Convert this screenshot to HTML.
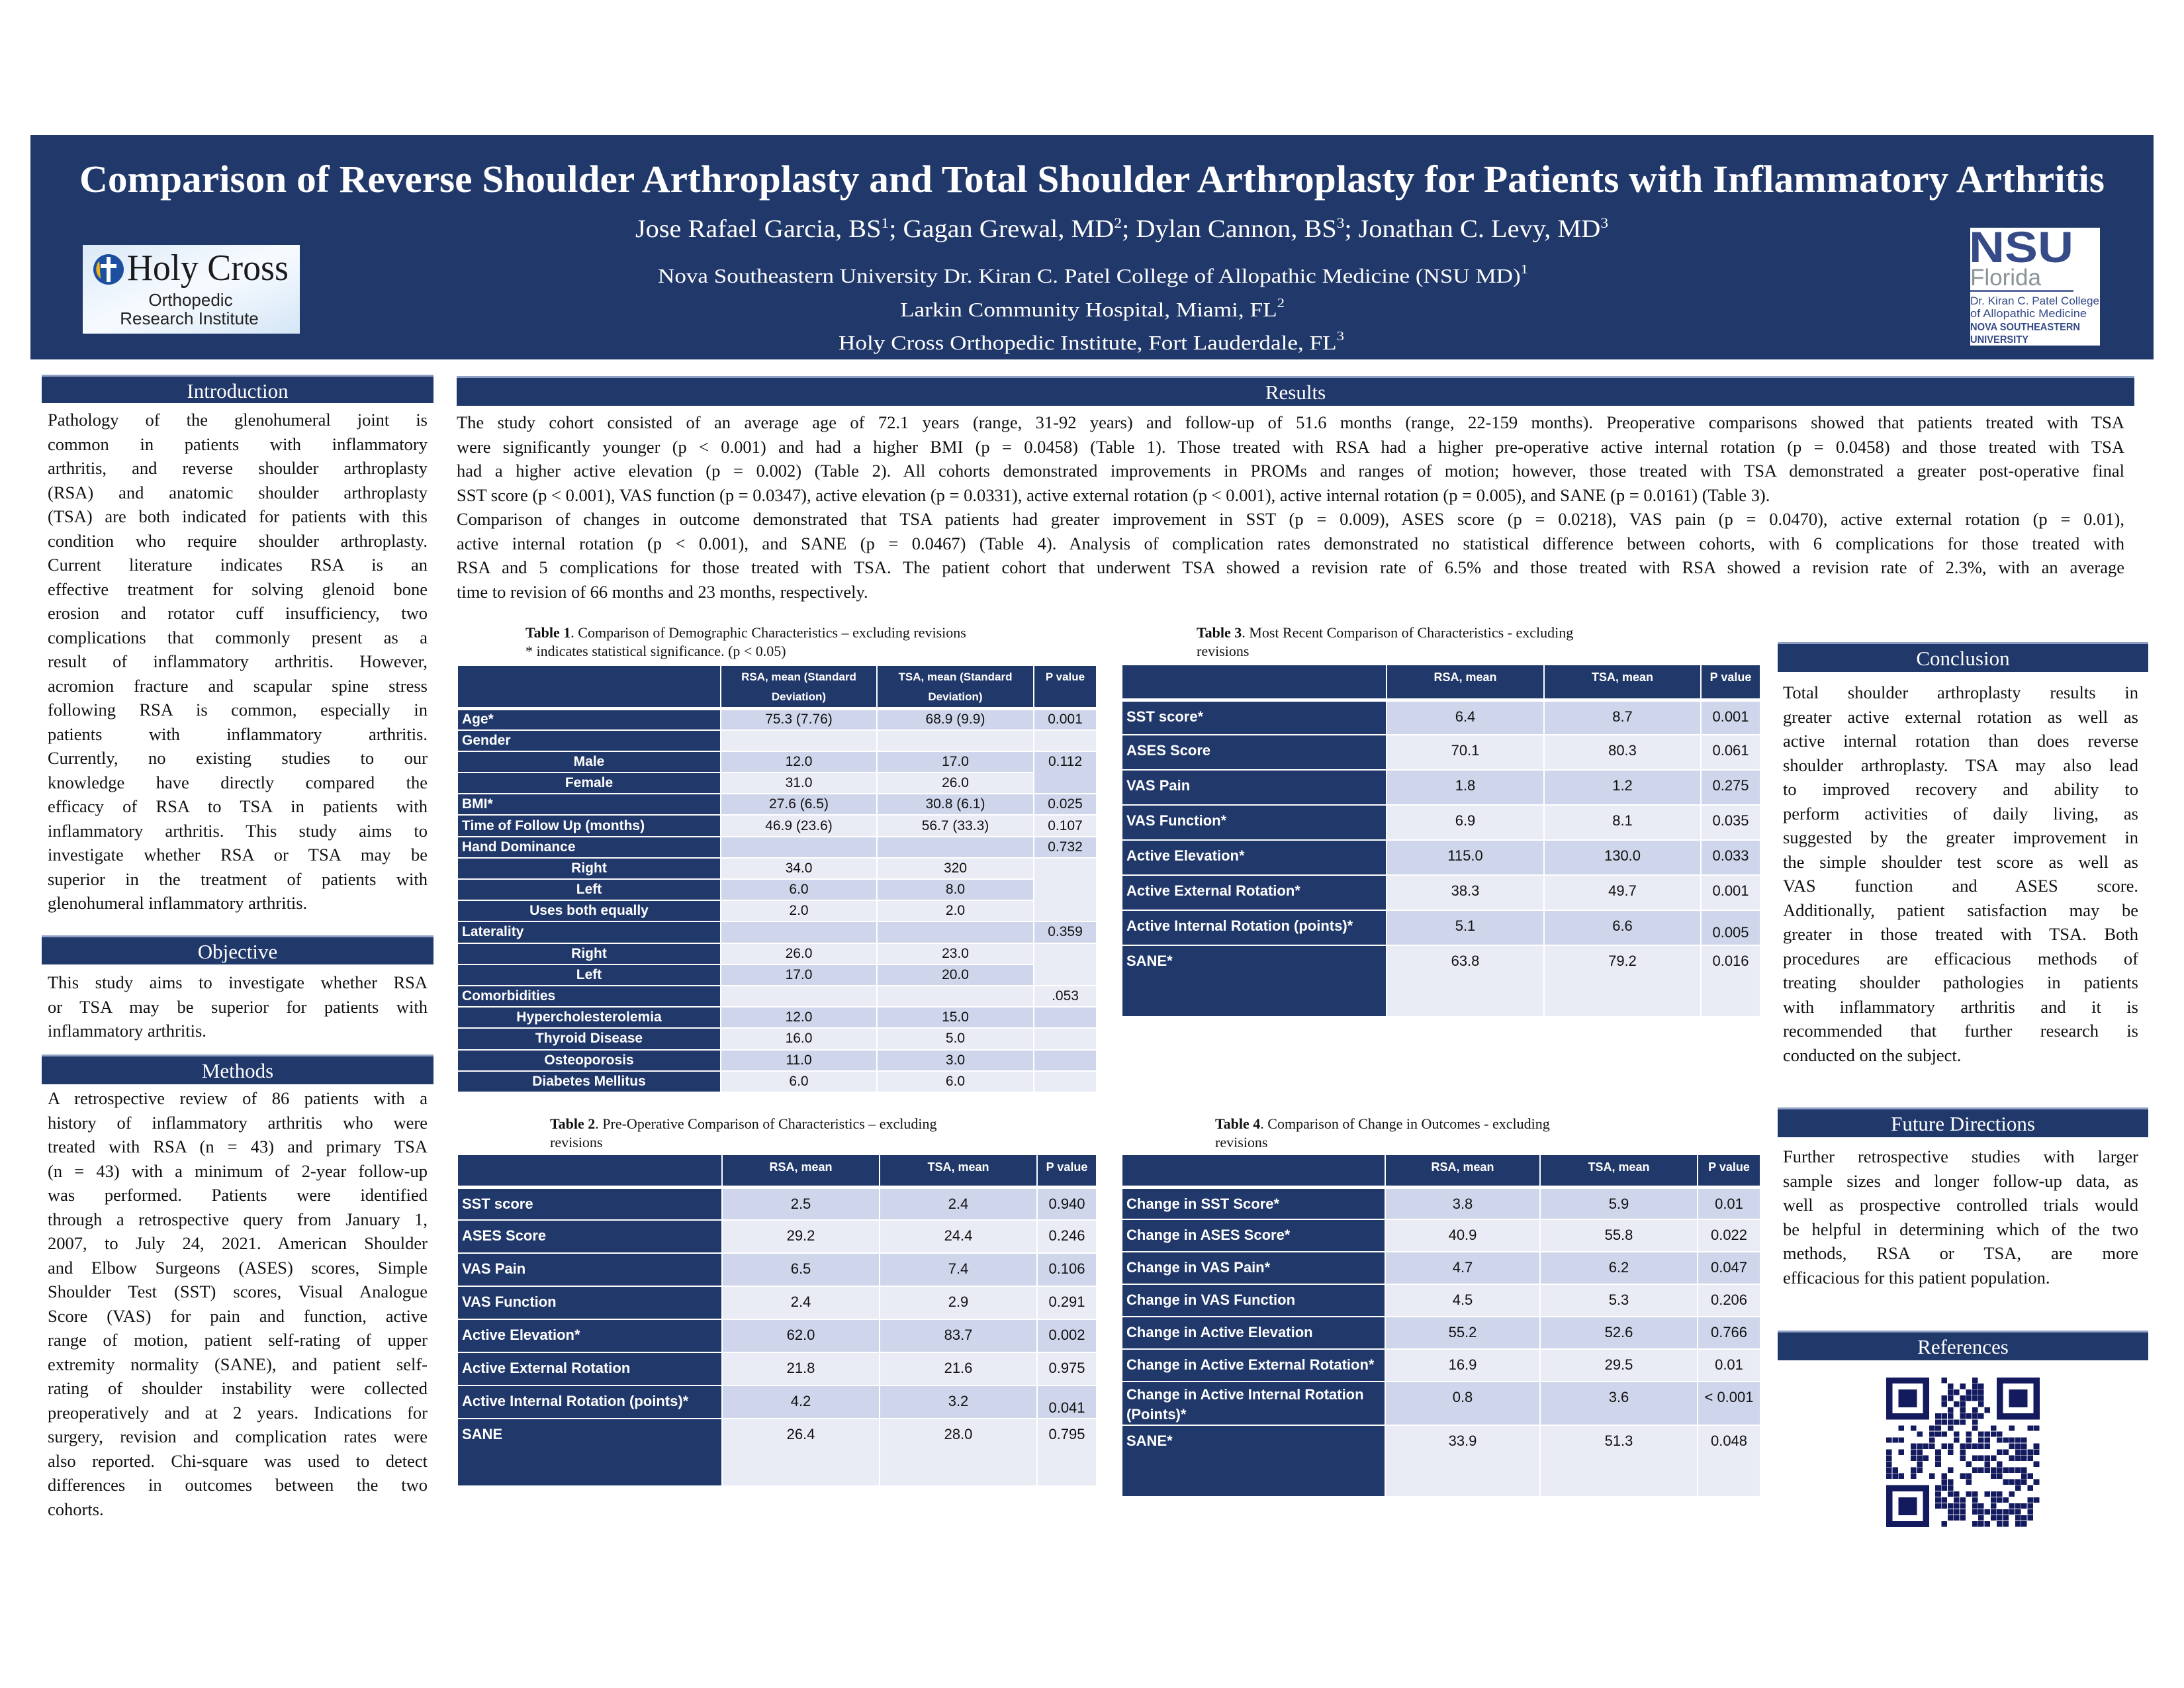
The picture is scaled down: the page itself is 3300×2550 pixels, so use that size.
<!DOCTYPE html>
<html><head><meta charset="utf-8">
<style>
*{margin:0;padding:0;box-sizing:border-box}
body{width:3300px;height:2550px;background:#fff;position:relative;overflow:hidden;font-family:"Liberation Serif",serif;color:#111}
.abs{position:absolute}
.hd{position:absolute;background:#21386a;color:#fff;font-size:31px;text-align:center;line-height:44px;border-top:3px solid #8fa0c4}
.txt{position:absolute;font-size:26.5px;line-height:36.5px}
.txt div{text-align:justify;text-align-last:justify;height:36.5px}
.txt div.e{text-align-last:left}
table{position:absolute;border-collapse:collapse;font-family:"Liberation Sans Narrow","Liberation Sans",sans-serif;table-layout:fixed}
td{border:2px solid #fff;padding:0 6px}
th{border:2px solid #fff;border-bottom:5px solid #fff;background:#21386a;color:#fff;font-weight:bold;vertical-align:top;text-align:center}
td.n{background:#21386a;color:#fff;font-weight:bold}
td.D{background:#cfd5ea;text-align:center}
td.L{background:#e9ebf5;text-align:center}
.t1 td{font-size:21px;height:32.2px;vertical-align:middle}
.t1 td.c{text-align:center}
.t1 th{font-size:17px;line-height:30px;padding-top:2px}
.t3 td,.t2 td,.t4 td{font-size:22px;vertical-align:top;padding-top:10px}
.t3 th,.t2 th,.t4 th{font-size:18px;padding-top:8px}
.cap{position:absolute;font-size:22px;line-height:28px}
</style></head><body>

<div class="abs" style="left:46px;top:204px;width:3208px;height:339px;background:#21386a"></div>
<svg class="abs" style="left:0;top:0" width="3300" height="560">
<text x="120" y="290" textLength="3060" lengthAdjust="spacingAndGlyphs" font-family="Liberation Serif" font-weight="bold" font-size="58" fill="#fff">Comparison of Reverse Shoulder Arthroplasty and Total Shoulder Arthroplasty for Patients with Inflammatory Arthritis</text>
<text x="960" y="358" textLength="1470" lengthAdjust="spacingAndGlyphs" font-family="Liberation Serif" font-size="38" fill="#fff">Jose Rafael Garcia, BS<tspan font-size="22" dy="-14">1</tspan><tspan dy="14">; Gagan Grewal, MD</tspan><tspan font-size="22" dy="-14">2</tspan><tspan dy="14">; Dylan Cannon, BS</tspan><tspan font-size="22" dy="-14">3</tspan><tspan dy="14">; Jonathan C. Levy, MD</tspan><tspan font-size="22" dy="-14">3</tspan></text>
<text x="994" y="427" textLength="1315" lengthAdjust="spacingAndGlyphs" font-family="Liberation Serif" font-size="31" fill="#fff">Nova Southeastern University Dr. Kiran C. Patel College of Allopathic Medicine (NSU MD)<tspan font-size="20" dy="-14">1</tspan></text>
<text x="1360" y="478" textLength="581" lengthAdjust="spacingAndGlyphs" font-family="Liberation Serif" font-size="31" fill="#fff">Larkin Community Hospital, Miami, FL<tspan font-size="20" dy="-14">2</tspan></text>
<text x="1267" y="528" textLength="764" lengthAdjust="spacingAndGlyphs" font-family="Liberation Serif" font-size="31" fill="#fff">Holy Cross Orthopedic Institute, Fort Lauderdale, FL<tspan font-size="20" dy="-14">3</tspan></text>
<defs><linearGradient id="g" x1="0" y1="0" x2="1" y2="1"><stop offset="0" stop-color="#dbe9f7"/><stop offset="0.5" stop-color="#f7fbff"/><stop offset="1" stop-color="#d5e6f6"/></linearGradient></defs>
<rect x="125" y="370" width="328" height="134" fill="url(#g)"/>
<circle cx="164" cy="407" r="23" fill="#1c4fa0"/>
<path d="M150 394 a19 19 0 0 0 2 27 z" fill="#f2b41c"/>
<rect x="161" y="388" width="6" height="38" fill="#fff"/><rect x="152" y="399" width="24" height="6" fill="#fff"/>
<text x="192" y="423" font-family="Liberation Serif" font-size="56" fill="#1a1a1a" textLength="244" lengthAdjust="spacingAndGlyphs">Holy Cross</text>
<text x="288" y="462" text-anchor="middle" font-family="Liberation Sans" font-size="26" fill="#222">Orthopedic</text>
<text x="286" y="490" text-anchor="middle" font-family="Liberation Sans" font-size="26" fill="#222">Research Institute</text>
<rect x="2977" y="344" width="196" height="178" fill="#fff"/>
<text x="2975" y="396" font-family="Liberation Sans" font-weight="bold" font-size="66" fill="#354a86" textLength="158" lengthAdjust="spacingAndGlyphs">NSU</text>
<text x="2977" y="431" font-family="Liberation Sans" font-size="35" fill="#8a9498">Florida</text>
<rect x="2977" y="438" width="156" height="3" fill="#5a6a9c"/>
<text x="2977" y="460" font-family="Liberation Sans" font-size="17" fill="#354a86" textLength="195" lengthAdjust="spacingAndGlyphs">Dr. Kiran C. Patel College</text>
<text x="2977" y="479" font-family="Liberation Sans" font-size="17" fill="#354a86" textLength="176" lengthAdjust="spacingAndGlyphs">of Allopathic Medicine</text>
<text x="2977" y="499" font-family="Liberation Sans" font-weight="bold" font-size="16" fill="#354a86" textLength="166" lengthAdjust="spacingAndGlyphs">NOVA SOUTHEASTERN</text>
<text x="2977" y="518" font-family="Liberation Sans" font-weight="bold" font-size="16" fill="#354a86" textLength="88" lengthAdjust="spacingAndGlyphs">UNIVERSITY</text>
</svg>

<div class="hd" style="left:63px;top:566px;width:592px;height:43px">Introduction</div>
<div class="hd" style="left:63px;top:1413px;width:592px;height:44px">Objective</div>
<div class="hd" style="left:63px;top:1593px;width:592px;height:45px">Methods</div>
<div class="hd" style="left:690px;top:568px;width:2535px;height:45px">Results</div>
<div class="hd" style="left:2686px;top:970px;width:560px;height:45px">Conclusion</div>
<div class="hd" style="left:2686px;top:1673px;width:560px;height:45px">Future Directions</div>
<div class="hd" style="left:2686px;top:2010px;width:560px;height:45px">References</div>

<div class="txt" style="left:72px;top:616px;width:574px">
<div>Pathology of the glenohumeral joint is</div>
<div>common in patients with inflammatory</div>
<div>arthritis, and reverse shoulder arthroplasty</div>
<div>(RSA) and anatomic shoulder arthroplasty</div>
<div>(TSA) are both indicated for patients with this</div>
<div>condition who require shoulder arthroplasty.</div>
<div>Current literature indicates RSA is an</div>
<div>effective treatment for solving glenoid bone</div>
<div>erosion and rotator cuff insufficiency, two</div>
<div>complications that commonly present as a</div>
<div>result of inflammatory arthritis. However,</div>
<div>acromion fracture and scapular spine stress</div>
<div>following RSA is common, especially in</div>
<div>patients with inflammatory arthritis.</div>
<div>Currently, no existing studies to our</div>
<div>knowledge have directly compared the</div>
<div>efficacy of RSA to TSA in patients with</div>
<div>inflammatory arthritis. This study aims to</div>
<div>investigate whether RSA or TSA may be</div>
<div>superior in the treatment of patients with</div>
<div class="e">glenohumeral inflammatory arthritis.</div>
</div>

<div class="txt" style="left:72px;top:1466px;width:574px">
<div>This study aims to investigate whether RSA</div>
<div>or TSA may be superior for patients with</div>
<div class="e">inflammatory arthritis.</div>
</div>

<div class="txt" style="left:72px;top:1641px;width:574px">
<div>A retrospective review of 86 patients with a</div>
<div>history of inflammatory arthritis who were</div>
<div>treated with RSA (n = 43) and primary TSA</div>
<div>(n = 43) with a minimum of 2-year follow-up</div>
<div>was performed. Patients were identified</div>
<div>through a retrospective query from January 1,</div>
<div>2007, to July 24, 2021. American Shoulder</div>
<div>and Elbow Surgeons (ASES) scores, Simple</div>
<div>Shoulder Test (SST) scores, Visual Analogue</div>
<div>Score (VAS) for pain and function, active</div>
<div>range of motion, patient self-rating of upper</div>
<div>extremity normality (SANE), and patient self-</div>
<div>rating of shoulder instability were collected</div>
<div>preoperatively and at 2 years. Indications for</div>
<div>surgery, revision and complication rates were</div>
<div>also reported. Chi-square was used to detect</div>
<div>differences in outcomes between the two</div>
<div class="e">cohorts.</div>
</div>

<div class="txt" style="left:690px;top:620px;width:2520px">
<div>The study cohort consisted of an average age of 72.1 years (range, 31-92 years) and follow-up of 51.6 months (range, 22-159 months). Preoperative comparisons showed that patients treated with TSA</div>
<div>were significantly younger (p &lt; 0.001) and had a higher BMI (p = 0.0458) (Table 1). Those treated with RSA had a higher pre-operative active internal rotation (p = 0.0458) and those treated with TSA</div>
<div>had a higher active elevation (p = 0.002) (Table 2). All cohorts demonstrated improvements in PROMs and ranges of motion; however, those treated with TSA demonstrated a greater post-operative final</div>
<div class="e">SST score (p &lt; 0.001), VAS function (p = 0.0347), active elevation (p = 0.0331), active external rotation (p &lt; 0.001), active internal rotation (p = 0.005), and SANE (p = 0.0161) (Table 3).</div>
<div>Comparison of changes in outcome demonstrated that TSA patients had greater improvement in SST (p = 0.009), ASES score (p = 0.0218), VAS pain (p = 0.0470), active external rotation (p = 0.01),</div>
<div>active internal rotation (p &lt; 0.001), and SANE (p = 0.0467) (Table 4). Analysis of complication rates demonstrated no statistical difference between cohorts, with 6 complications for those treated with</div>
<div>RSA and 5 complications for those treated with TSA. The patient cohort that underwent TSA showed a revision rate of 6.5% and those treated with RSA showed a revision rate of 2.3%, with an average</div>
<div class="e">time to revision of 66 months and 23 months, respectively.</div>
</div>

<div class="txt" style="left:2694px;top:1028px;width:537px">
<div>Total shoulder arthroplasty results in</div>
<div>greater active external rotation as well as</div>
<div>active internal rotation than does reverse</div>
<div>shoulder arthroplasty. TSA may also lead</div>
<div>to improved recovery and ability to</div>
<div>perform activities of daily living, as</div>
<div>suggested by the greater improvement in</div>
<div>the simple shoulder test score as well as</div>
<div>VAS function and ASES score.</div>
<div>Additionally, patient satisfaction may be</div>
<div>greater in those treated with TSA. Both</div>
<div>procedures are efficacious methods of</div>
<div>treating shoulder pathologies in patients</div>
<div>with inflammatory arthritis and it is</div>
<div>recommended that further research is</div>
<div class="e">conducted on the subject.</div>
</div>

<div class="txt" style="left:2694px;top:1729px;width:537px">
<div>Further retrospective studies with larger</div>
<div>sample sizes and longer follow-up data, as</div>
<div>well as prospective controlled trials would</div>
<div>be helpful in determining which of the two</div>
<div>methods, RSA or TSA, are more</div>
<div class="e">efficacious for this patient population.</div>
</div>

<div class="cap" style="left:794px;top:942px"><b>Table 1</b>. Comparison of Demographic Characteristics – excluding revisions<br>* indicates statistical significance. (p &lt; 0.05)</div>
<div class="cap" style="left:1808px;top:942px;width:660px"><b>Table 3</b>. Most Recent Comparison of Characteristics - excluding<br>revisions</div>
<div class="cap" style="left:831px;top:1684px"><b>Table 2</b>. Pre-Operative Comparison of Characteristics – excluding<br>revisions</div>
<div class="cap" style="left:1836px;top:1684px"><b>Table 4</b>. Comparison of Change in Outcomes -  excluding<br>revisions</div>

<table class="t1" style="left:690px;top:1004px;width:966px">
<colgroup><col style="width:398px"><col style="width:236px"><col style="width:237px"><col style="width:95px"></colgroup>
<tr><th style="height:64px"></th><th>RSA, mean (Standard<br>Deviation)</th><th>TSA, mean (Standard<br>Deviation)</th><th>P value</th></tr>
<tr><td class="n">Age*</td><td class="D">75.3 (7.76)</td><td class="D">68.9 (9.9)</td><td class="D">0.001</td></tr>
<tr><td class="n">Gender</td><td class="L"></td><td class="L"></td><td class="L"></td></tr>
<tr><td class="n c">Male</td><td class="D">12.0</td><td class="D">17.0</td><td class="D" rowspan="2" style="vertical-align:top;padding-top:3px">0.112</td></tr>
<tr><td class="n c">Female</td><td class="L">31.0</td><td class="L">26.0</td></tr>
<tr><td class="n">BMI*</td><td class="D">27.6 (6.5)</td><td class="D">30.8 (6.1)</td><td class="D">0.025</td></tr>
<tr><td class="n">Time of Follow Up (months)</td><td class="L">46.9 (23.6)</td><td class="L">56.7 (33.3)</td><td class="L">0.107</td></tr>
<tr><td class="n">Hand Dominance</td><td class="D"></td><td class="D"></td><td class="D">0.732</td></tr>
<tr><td class="n c">Right</td><td class="L">34.0</td><td class="L">320</td><td class="L" rowspan="3"></td></tr>
<tr><td class="n c">Left</td><td class="D">6.0</td><td class="D">8.0</td></tr>
<tr><td class="n c">Uses both equally</td><td class="L">2.0</td><td class="L">2.0</td></tr>
<tr><td class="n">Laterality</td><td class="D"></td><td class="D"></td><td class="D">0.359</td></tr>
<tr><td class="n c">Right</td><td class="L">26.0</td><td class="L">23.0</td><td class="L" rowspan="2"></td></tr>
<tr><td class="n c">Left</td><td class="D">17.0</td><td class="D">20.0</td></tr>
<tr><td class="n">Comorbidities</td><td class="L"></td><td class="L"></td><td class="L">.053</td></tr>
<tr><td class="n c">Hypercholesterolemia</td><td class="D">12.0</td><td class="D">15.0</td><td class="D"></td></tr>
<tr><td class="n c">Thyroid Disease</td><td class="L">16.0</td><td class="L">5.0</td><td class="L"></td></tr>
<tr><td class="n c">Osteoporosis</td><td class="D">11.0</td><td class="D">3.0</td><td class="D"></td></tr>
<tr><td class="n c">Diabetes Mellitus</td><td class="L">6.0</td><td class="L">6.0</td><td class="L"></td></tr>
</table>

<table class="t3" style="left:1694px;top:1003px;width:965px">
<colgroup><col style="width:400px"><col style="width:238px"><col style="width:237px"><col style="width:90px"></colgroup>
<tr><th style="height:53px"></th><th>RSA, mean</th><th>TSA, mean</th><th>P value</th></tr>
<tr style="height:53px"><td class="n">SST score*</td><td class="D">6.4</td><td class="D">8.7</td><td class="D">0.001</td></tr>
<tr style="height:53px"><td class="n">ASES Score</td><td class="L">70.1</td><td class="L">80.3</td><td class="L">0.061</td></tr>
<tr style="height:53px"><td class="n">VAS Pain</td><td class="D">1.8</td><td class="D">1.2</td><td class="D">0.275</td></tr>
<tr style="height:53px"><td class="n">VAS Function*</td><td class="L">6.9</td><td class="L">8.1</td><td class="L">0.035</td></tr>
<tr style="height:53px"><td class="n">Active Elevation*</td><td class="D">115.0</td><td class="D">130.0</td><td class="D">0.033</td></tr>
<tr style="height:53px"><td class="n">Active External Rotation*</td><td class="L">38.3</td><td class="L">49.7</td><td class="L">0.001</td></tr>
<tr style="height:53px"><td class="n">Active Internal Rotation (points)*</td><td class="D">5.1</td><td class="D">6.6</td><td class="D" style="padding-top:20px">0.005</td></tr>
<tr style="height:108px"><td class="n">SANE*</td><td class="L">63.8</td><td class="L">79.2</td><td class="L">0.016</td></tr>
</table>

<table class="t2" style="left:690px;top:1743px;width:966px">
<colgroup><col style="width:400px"><col style="width:238px"><col style="width:238px"><col style="width:90px"></colgroup>
<tr><th style="height:49px"></th><th>RSA, mean</th><th>TSA, mean</th><th>P value</th></tr>
<tr style="height:50px"><td class="n">SST score</td><td class="D">2.5</td><td class="D">2.4</td><td class="D">0.940</td></tr>
<tr style="height:50px"><td class="n">ASES Score</td><td class="L">29.2</td><td class="L">24.4</td><td class="L">0.246</td></tr>
<tr style="height:50px"><td class="n">VAS Pain</td><td class="D">6.5</td><td class="D">7.4</td><td class="D">0.106</td></tr>
<tr style="height:50px"><td class="n">VAS Function</td><td class="L">2.4</td><td class="L">2.9</td><td class="L">0.291</td></tr>
<tr style="height:50px"><td class="n">Active Elevation*</td><td class="D">62.0</td><td class="D">83.7</td><td class="D">0.002</td></tr>
<tr style="height:50px"><td class="n">Active External Rotation</td><td class="L">21.8</td><td class="L">21.6</td><td class="L">0.975</td></tr>
<tr style="height:50px"><td class="n">Active Internal Rotation (points)*</td><td class="D">4.2</td><td class="D">3.2</td><td class="D" style="padding-top:20px">0.041</td></tr>
<tr style="height:102px"><td class="n">SANE</td><td class="L">26.4</td><td class="L">28.0</td><td class="L">0.795</td></tr>
</table>

<table class="t4" style="left:1694px;top:1743px;width:965px">
<colgroup><col style="width:398px"><col style="width:234px"><col style="width:238px"><col style="width:95px"></colgroup>
<tr><th style="height:49px"></th><th>RSA, mean</th><th>TSA, mean</th><th>P value</th></tr>
<tr style="height:49px"><td class="n">Change in SST Score*</td><td class="D">3.8</td><td class="D">5.9</td><td class="D">0.01</td></tr>
<tr style="height:49px"><td class="n">Change in ASES Score*</td><td class="L">40.9</td><td class="L">55.8</td><td class="L">0.022</td></tr>
<tr style="height:49px"><td class="n">Change in VAS Pain*</td><td class="D">4.7</td><td class="D">6.2</td><td class="D">0.047</td></tr>
<tr style="height:49px"><td class="n">Change in VAS Function</td><td class="L">4.5</td><td class="L">5.3</td><td class="L">0.206</td></tr>
<tr style="height:49px"><td class="n">Change in Active Elevation</td><td class="D">55.2</td><td class="D">52.6</td><td class="D">0.766</td></tr>
<tr style="height:49px"><td class="n">Change in Active External Rotation*</td><td class="L">16.9</td><td class="L">29.5</td><td class="L">0.01</td></tr>
<tr style="height:62px"><td class="n" style="line-height:30px;padding-top:4px">Change in Active Internal Rotation (Points)*</td><td class="D">0.8</td><td class="D">3.6</td><td class="D">&lt; 0.001</td></tr>
<tr style="height:108px"><td class="n">SANE*</td><td class="L">33.9</td><td class="L">51.3</td><td class="L">0.048</td></tr>
</table>

<svg class="abs" style="left:2850px;top:2081px" width="232" height="226" viewBox="0 0 25 25" preserveAspectRatio="none" shape-rendering="crispEdges">
<g fill="#131a5e">
<path d="M0 0h7v7h-7zM1 1v5h5v-5zM2 2h3v3h-3z" fill-rule="evenodd"/>
<path d="M18 0h7v7h-7zM19 1v5h5v-5zM20 2h3v3h-3z" fill-rule="evenodd"/>
<path d="M0 18h7v7h-7zM1 19v5h5v-5zM2 20h3v3h-3z" fill-rule="evenodd"/>
</g>
<g id="mods" fill="#131a5e"></g>
</svg>
<script>
(function(){var g=document.getElementById('mods');var s=12345;function r(){s=(s*1103515245+12345)%2147483648;return s/2147483648;}
var h='';for(var y=0;y<25;y++)for(var x=0;x<25;x++){if((x<8&&y<8)||(x>16&&y<8)||(x<8&&y>16))continue;if(r()<0.5)h+='<rect x="'+x+'" y="'+y+'" width="0.92" height="0.92"/>';}
g.innerHTML=h;})();
</script>
</body></html>
